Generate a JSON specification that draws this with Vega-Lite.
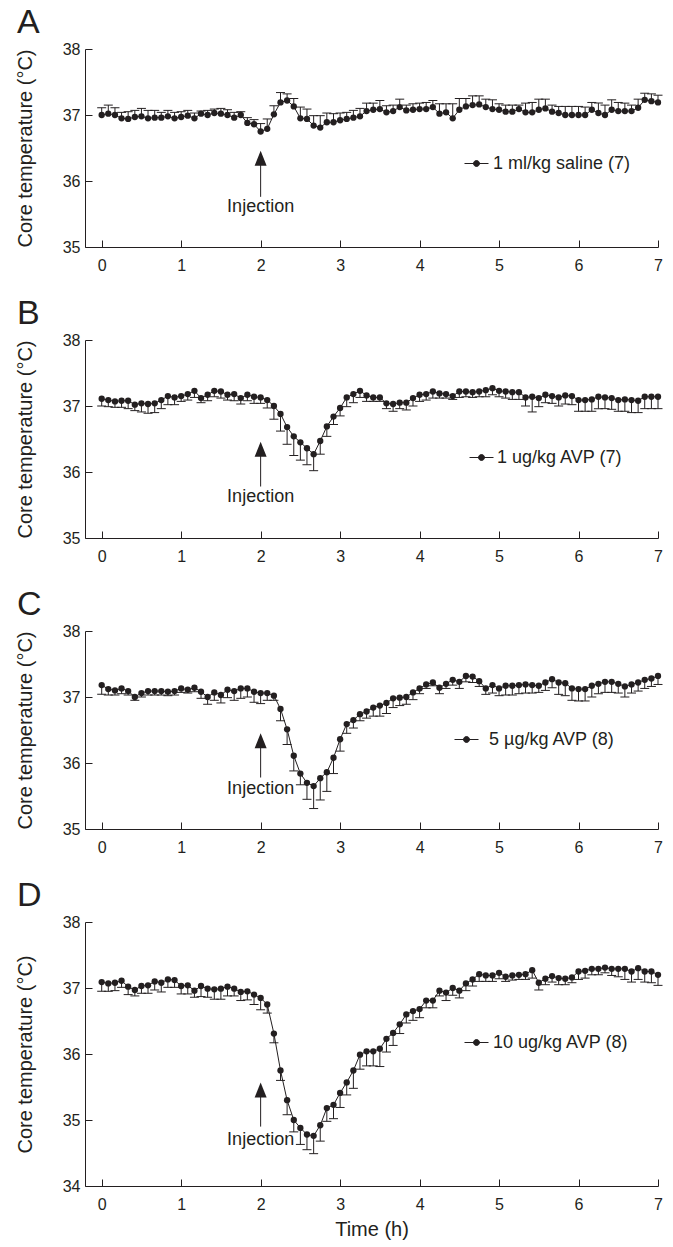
{
  "$schema": "https://vega.github.io/schema/vega-lite/v6.json",
  "background": "white",
  "padding": {"left": 15, "top": 6, "right": 5, "bottom": 5},
  "bounds": "flush",
  "spacing": 93,
  "config": {
    "font": "Liberation Sans",
    "view": {"stroke": null},
    "axis": {
      "grid": false,
      "domainColor": "#231f20",
      "tickColor": "#231f20",
      "labelColor": "#231f20",
      "titleColor": "#231f20",
      "labelFont": "Liberation Sans",
      "titleFont": "Liberation Sans",
      "labelFontSize": 16,
      "titleFontSize": 20,
      "titleFontWeight": "normal",
      "tickSize": -7,
      "domainWidth": 1,
      "tickWidth": 1,
      "labelFlush": false,
      "format": "d"
    },
    "axisY": {"labelPadding": 12, "titlePadding": 27},
    "axisX": {"labelPadding": 17, "titlePadding": 7},
    "title": {"anchor": "start", "frame": "group", "fontSize": 34, "fontWeight": "normal", "color": "#231f20", "font": "Liberation Sans", "dx": -68, "offset": 1},
    "legend": {
      "orient": "none",
      "title": null,
      "padding": 0,
      "symbolType": "M-1,0H1M-0.25,0A0.25,0.25,0,1,1,0.25,0A0.25,0.25,0,1,1,-0.25,0Z",
      "symbolSize": 576,
      "symbolFillColor": "#231f20",
      "symbolStrokeColor": "#231f20",
      "symbolStrokeWidth": 1,
      "symbolOpacity": 1,
      "labelFontSize": 18,
      "labelColor": "#231f20",
      "labelFont": "Liberation Sans"
    }
  },
  "resolve": {"scale": {"x": "independent", "y": "independent", "color": "independent"}, "legend": {"color": "independent"}},
  "datasets": {
    "A": [
      {"t":0,"m":37.00,"e":37.11},{"t":0.083,"m":37.02,"e":37.15},{"t":0.167,"m":37.00,"e":37.11},{"t":0.25,"m":36.95,"e":37.04},{"t":0.333,"m":36.94,"e":37.05},{"t":0.417,"m":36.97,"e":37.07},{"t":0.5,"m":36.98,"e":37.10},{"t":0.583,"m":36.95,"e":37.07},{"t":0.667,"m":36.96,"e":37.07},{"t":0.75,"m":36.96,"e":37.04},{"t":0.833,"m":36.98,"e":37.07},{"t":0.917,"m":36.95,"e":37.04},
      {"t":1,"m":36.97,"e":37.05},{"t":1.083,"m":36.99,"e":37.07},{"t":1.167,"m":36.95,"e":37.03},{"t":1.25,"m":37.02,"e":37.06},{"t":1.333,"m":37.00,"e":37.07},{"t":1.417,"m":37.03,"e":37.09},{"t":1.5,"m":37.02,"e":37.10},{"t":1.583,"m":37.00,"e":37.08},{"t":1.667,"m":36.96,"e":37.04},{"t":1.75,"m":37.00,"e":37.05},{"t":1.833,"m":36.88,"e":36.96},{"t":1.917,"m":36.86,"e":36.93},
      {"t":2,"m":36.75,"e":36.87},{"t":2.083,"m":36.79,"e":36.94},{"t":2.167,"m":37.01,"e":37.14},{"t":2.25,"m":37.19,"e":37.34},{"t":2.333,"m":37.22,"e":37.32},{"t":2.417,"m":37.13,"e":37.25},{"t":2.5,"m":36.95,"e":37.12},{"t":2.583,"m":36.94,"e":37.09},{"t":2.667,"m":36.84,"e":36.99},{"t":2.75,"m":36.81,"e":36.99},{"t":2.833,"m":36.89,"e":37.03},{"t":2.917,"m":36.89,"e":37.02},
      {"t":3,"m":36.92,"e":37.03},{"t":3.083,"m":36.94,"e":37.04},{"t":3.167,"m":36.96,"e":37.07},{"t":3.25,"m":36.98,"e":37.10},{"t":3.333,"m":37.06,"e":37.18},{"t":3.417,"m":37.08,"e":37.18},{"t":3.5,"m":37.09,"e":37.22},{"t":3.583,"m":37.04,"e":37.14},{"t":3.667,"m":37.06,"e":37.15},{"t":3.75,"m":37.12,"e":37.24},{"t":3.833,"m":37.07,"e":37.15},{"t":3.917,"m":37.08,"e":37.17},
      {"t":4,"m":37.09,"e":37.18},{"t":4.083,"m":37.09,"e":37.19},{"t":4.167,"m":37.12,"e":37.22},{"t":4.25,"m":37.02,"e":37.17},{"t":4.333,"m":37.04,"e":37.17},{"t":4.417,"m":36.95,"e":37.17},{"t":4.5,"m":37.08,"e":37.25},{"t":4.583,"m":37.13,"e":37.25},{"t":4.667,"m":37.15,"e":37.29},{"t":4.75,"m":37.16,"e":37.29},{"t":4.833,"m":37.12,"e":37.24},{"t":4.917,"m":37.09,"e":37.23},
      {"t":5,"m":37.08,"e":37.17},{"t":5.083,"m":37.05,"e":37.15},{"t":5.167,"m":37.05,"e":37.15},{"t":5.25,"m":37.09,"e":37.15},{"t":5.333,"m":37.04,"e":37.18},{"t":5.417,"m":37.04,"e":37.19},{"t":5.5,"m":37.08,"e":37.24},{"t":5.583,"m":37.10,"e":37.24},{"t":5.667,"m":37.05,"e":37.15},{"t":5.75,"m":37.03,"e":37.13},{"t":5.833,"m":37.00,"e":37.13},{"t":5.917,"m":37.00,"e":37.13},
      {"t":6,"m":37.00,"e":37.13},{"t":6.083,"m":37.00,"e":37.12},{"t":6.167,"m":37.08,"e":37.19},{"t":6.25,"m":37.03,"e":37.18},{"t":6.333,"m":37.00,"e":37.15},{"t":6.417,"m":37.08,"e":37.23},{"t":6.5,"m":37.06,"e":37.19},{"t":6.583,"m":37.06,"e":37.18},{"t":6.667,"m":37.06,"e":37.15},{"t":6.75,"m":37.11,"e":37.24},{"t":6.833,"m":37.23,"e":37.33},{"t":6.917,"m":37.21,"e":37.32},
      {"t":7,"m":37.19,"e":37.30}
    ],
    "B": [
      {"t":0,"m":37.11,"e":37.00},{"t":0.083,"m":37.09,"e":36.99},{"t":0.167,"m":37.07,"e":36.98},{"t":0.25,"m":37.08,"e":36.98},{"t":0.333,"m":37.08,"e":36.96},{"t":0.417,"m":37.02,"e":36.93},{"t":0.5,"m":37.04,"e":36.91},{"t":0.583,"m":37.03,"e":36.89},{"t":0.667,"m":37.04,"e":36.90},{"t":0.75,"m":37.09,"e":36.96},{"t":0.833,"m":37.15,"e":37.02},{"t":0.917,"m":37.13,"e":37.02},
      {"t":1,"m":37.15,"e":37.07},{"t":1.083,"m":37.18,"e":37.09},{"t":1.167,"m":37.23,"e":37.13},{"t":1.25,"m":37.12,"e":37.05},{"t":1.333,"m":37.17,"e":37.08},{"t":1.417,"m":37.23,"e":37.14},{"t":1.5,"m":37.22,"e":37.12},{"t":1.583,"m":37.17,"e":37.09},{"t":1.667,"m":37.18,"e":37.08},{"t":1.75,"m":37.12,"e":37.03},{"t":1.833,"m":37.17,"e":37.08},{"t":1.917,"m":37.14,"e":37.04},
      {"t":2,"m":37.13,"e":37.04},{"t":2.083,"m":37.09,"e":36.97},{"t":2.167,"m":37.00,"e":36.80},{"t":2.25,"m":36.88,"e":36.62},{"t":2.333,"m":36.68,"e":36.42},{"t":2.417,"m":36.54,"e":36.25},{"t":2.5,"m":36.45,"e":36.18},{"t":2.583,"m":36.36,"e":36.11},{"t":2.667,"m":36.27,"e":36.02},{"t":2.75,"m":36.47,"e":36.27},{"t":2.833,"m":36.69,"e":36.54},{"t":2.917,"m":36.84,"e":36.72},
      {"t":3,"m":36.97,"e":36.85},{"t":3.083,"m":37.13,"e":36.99},{"t":3.167,"m":37.18,"e":37.05},{"t":3.25,"m":37.23,"e":37.13},{"t":3.333,"m":37.16,"e":37.07},{"t":3.417,"m":37.13,"e":37.07},{"t":3.5,"m":37.13,"e":37.07},{"t":3.583,"m":37.04,"e":36.96},{"t":3.667,"m":37.03,"e":36.92},{"t":3.75,"m":37.05,"e":36.96},{"t":3.833,"m":37.05,"e":36.94},{"t":3.917,"m":37.12,"e":37.00},
      {"t":4,"m":37.17,"e":37.07},{"t":4.083,"m":37.18,"e":37.09},{"t":4.167,"m":37.22,"e":37.12},{"t":4.25,"m":37.19,"e":37.12},{"t":4.333,"m":37.18,"e":37.12},{"t":4.417,"m":37.15,"e":37.10},{"t":4.5,"m":37.22,"e":37.13},{"t":4.583,"m":37.22,"e":37.14},{"t":4.667,"m":37.21,"e":37.13},{"t":4.75,"m":37.22,"e":37.14},{"t":4.833,"m":37.24,"e":37.14},{"t":4.917,"m":37.27,"e":37.17},
      {"t":5,"m":37.23,"e":37.14},{"t":5.083,"m":37.22,"e":37.12},{"t":5.167,"m":37.21,"e":37.10},{"t":5.25,"m":37.21,"e":37.10},{"t":5.333,"m":37.13,"e":37.00},{"t":5.417,"m":37.14,"e":36.91},{"t":5.5,"m":37.12,"e":36.99},{"t":5.583,"m":37.17,"e":37.05},{"t":5.667,"m":37.15,"e":37.04},{"t":5.75,"m":37.13,"e":37.00},{"t":5.833,"m":37.16,"e":37.03},{"t":5.917,"m":37.15,"e":37.02},
      {"t":6,"m":37.09,"e":36.92},{"t":6.083,"m":37.09,"e":36.92},{"t":6.167,"m":37.10,"e":36.92},{"t":6.25,"m":37.14,"e":36.96},{"t":6.333,"m":37.13,"e":36.96},{"t":6.417,"m":37.12,"e":36.95},{"t":6.5,"m":37.09,"e":36.92},{"t":6.583,"m":37.10,"e":36.92},{"t":6.667,"m":37.09,"e":36.90},{"t":6.75,"m":37.08,"e":36.90},{"t":6.833,"m":37.14,"e":36.96},{"t":6.917,"m":37.14,"e":36.96},
      {"t":7,"m":37.14,"e":36.96}
    ],
    "C": [
      {"t":0,"m":37.18,"e":37.04},{"t":0.083,"m":37.12,"e":37.03},{"t":0.167,"m":37.10,"e":37.03},{"t":0.25,"m":37.13,"e":37.05},{"t":0.333,"m":37.09,"e":37.03},{"t":0.417,"m":37.00,"e":36.95},{"t":0.5,"m":37.06,"e":37.00},{"t":0.583,"m":37.09,"e":37.03},{"t":0.667,"m":37.09,"e":37.03},{"t":0.75,"m":37.09,"e":37.03},{"t":0.833,"m":37.08,"e":37.02},{"t":0.917,"m":37.09,"e":37.03},
      {"t":1,"m":37.13,"e":37.07},{"t":1.083,"m":37.11,"e":37.06},{"t":1.167,"m":37.14,"e":37.08},{"t":1.25,"m":37.08,"e":36.98},{"t":1.333,"m":37.00,"e":36.89},{"t":1.417,"m":37.07,"e":36.95},{"t":1.5,"m":37.03,"e":36.91},{"t":1.583,"m":37.11,"e":36.99},{"t":1.667,"m":37.09,"e":36.95},{"t":1.75,"m":37.13,"e":36.98},{"t":1.833,"m":37.13,"e":37.00},{"t":1.917,"m":37.08,"e":36.92},
      {"t":2,"m":37.06,"e":36.90},{"t":2.083,"m":37.06,"e":36.95},{"t":2.167,"m":37.02,"e":36.95},{"t":2.25,"m":36.82,"e":36.64},{"t":2.333,"m":36.51,"e":36.28},{"t":2.417,"m":36.11,"e":35.88},{"t":2.5,"m":35.84,"e":35.67},{"t":2.583,"m":35.70,"e":35.45},{"t":2.667,"m":35.65,"e":35.31},{"t":2.75,"m":35.77,"e":35.44},{"t":2.833,"m":35.86,"e":35.57},{"t":2.917,"m":36.08,"e":35.84},
      {"t":3,"m":36.36,"e":36.18},{"t":3.083,"m":36.59,"e":36.45},{"t":3.167,"m":36.65,"e":36.53},{"t":3.25,"m":36.74,"e":36.64},{"t":3.333,"m":36.78,"e":36.68},{"t":3.417,"m":36.84,"e":36.71},{"t":3.5,"m":36.87,"e":36.71},{"t":3.583,"m":36.91,"e":36.75},{"t":3.667,"m":36.98,"e":36.84},{"t":3.75,"m":36.99,"e":36.87},{"t":3.833,"m":37.00,"e":36.89},{"t":3.917,"m":37.07,"e":36.96},
      {"t":4,"m":37.13,"e":37.05},{"t":4.083,"m":37.19,"e":37.13},{"t":4.167,"m":37.22,"e":37.17},{"t":4.25,"m":37.14,"e":37.05},{"t":4.333,"m":37.20,"e":37.13},{"t":4.417,"m":37.26,"e":37.18},{"t":4.5,"m":37.23,"e":37.13},{"t":4.583,"m":37.32,"e":37.23},{"t":4.667,"m":37.31,"e":37.22},{"t":4.75,"m":37.24,"e":37.16},{"t":4.833,"m":37.13,"e":37.04},{"t":4.917,"m":37.18,"e":37.06},
      {"t":5,"m":37.13,"e":37.02},{"t":5.083,"m":37.17,"e":37.03},{"t":5.167,"m":37.17,"e":37.03},{"t":5.25,"m":37.18,"e":37.05},{"t":5.333,"m":37.19,"e":37.06},{"t":5.417,"m":37.18,"e":37.06},{"t":5.5,"m":37.17,"e":37.07},{"t":5.583,"m":37.22,"e":37.10},{"t":5.667,"m":37.27,"e":37.14},{"t":5.75,"m":37.22,"e":37.04},{"t":5.833,"m":37.21,"e":37.02},{"t":5.917,"m":37.13,"e":36.95},
      {"t":6,"m":37.12,"e":36.94},{"t":6.083,"m":37.12,"e":36.94},{"t":6.167,"m":37.17,"e":37.00},{"t":6.25,"m":37.20,"e":37.05},{"t":6.333,"m":37.23,"e":37.07},{"t":6.417,"m":37.23,"e":37.07},{"t":6.5,"m":37.20,"e":37.06},{"t":6.583,"m":37.16,"e":37.00},{"t":6.667,"m":37.19,"e":37.06},{"t":6.75,"m":37.22,"e":37.09},{"t":6.833,"m":37.26,"e":37.13},{"t":6.917,"m":37.28,"e":37.16},
      {"t":7,"m":37.32,"e":37.19}
    ],
    "D": [
      {"t":0,"m":37.09,"e":36.95},{"t":0.083,"m":37.07,"e":36.95},{"t":0.167,"m":37.08,"e":36.96},{"t":0.25,"m":37.11,"e":37.01},{"t":0.333,"m":37.02,"e":36.90},{"t":0.417,"m":36.97,"e":36.88},{"t":0.5,"m":37.03,"e":36.92},{"t":0.583,"m":37.04,"e":36.92},{"t":0.667,"m":37.10,"e":36.97},{"t":0.75,"m":37.08,"e":36.94},{"t":0.833,"m":37.13,"e":37.01},{"t":0.917,"m":37.12,"e":37.01},
      {"t":1,"m":37.03,"e":36.91},{"t":1.083,"m":37.04,"e":36.91},{"t":1.167,"m":36.96,"e":36.86},{"t":1.25,"m":37.03,"e":36.87},{"t":1.333,"m":36.99,"e":36.86},{"t":1.417,"m":36.98,"e":36.83},{"t":1.5,"m":36.99,"e":36.83},{"t":1.583,"m":37.02,"e":36.88},{"t":1.667,"m":36.99,"e":36.88},{"t":1.75,"m":36.94,"e":36.81},{"t":1.833,"m":36.95,"e":36.82},{"t":1.917,"m":36.90,"e":36.75},
      {"t":2,"m":36.85,"e":36.67},{"t":2.083,"m":36.75,"e":36.62},{"t":2.167,"m":36.31,"e":36.17},{"t":2.25,"m":35.75,"e":35.60},{"t":2.333,"m":35.30,"e":35.08},{"t":2.417,"m":35.00,"e":34.82},{"t":2.5,"m":34.88,"e":34.63},{"t":2.583,"m":34.78,"e":34.55},{"t":2.667,"m":34.76,"e":34.49},{"t":2.75,"m":34.92,"e":34.68},{"t":2.833,"m":35.18,"e":34.98},{"t":2.917,"m":35.23,"e":35.02},
      {"t":3,"m":35.41,"e":35.19},{"t":3.083,"m":35.57,"e":35.38},{"t":3.167,"m":35.75,"e":35.48},{"t":3.25,"m":35.99,"e":35.77},{"t":3.333,"m":36.04,"e":35.82},{"t":3.417,"m":36.04,"e":35.82},{"t":3.5,"m":36.08,"e":35.81},{"t":3.583,"m":36.23,"e":36.03},{"t":3.667,"m":36.32,"e":36.13},{"t":3.75,"m":36.45,"e":36.31},{"t":3.833,"m":36.60,"e":36.47},{"t":3.917,"m":36.65,"e":36.51},
      {"t":4,"m":36.68,"e":36.55},{"t":4.083,"m":36.81,"e":36.70},{"t":4.167,"m":36.81,"e":36.70},{"t":4.25,"m":36.96,"e":36.88},{"t":4.333,"m":36.93,"e":36.81},{"t":4.417,"m":37.00,"e":36.89},{"t":4.5,"m":36.96,"e":36.85},{"t":4.583,"m":37.07,"e":36.96},{"t":4.667,"m":37.13,"e":37.03},{"t":4.75,"m":37.21,"e":37.10},{"t":4.833,"m":37.19,"e":37.10},{"t":4.917,"m":37.19,"e":37.10},
      {"t":5,"m":37.23,"e":37.14},{"t":5.083,"m":37.17,"e":37.10},{"t":5.167,"m":37.19,"e":37.12},{"t":5.25,"m":37.20,"e":37.13},{"t":5.333,"m":37.21,"e":37.13},{"t":5.417,"m":37.27,"e":37.15},{"t":5.5,"m":37.08,"e":36.97},{"t":5.583,"m":37.14,"e":37.05},{"t":5.667,"m":37.18,"e":37.09},{"t":5.75,"m":37.15,"e":37.05},{"t":5.833,"m":37.14,"e":37.05},{"t":5.917,"m":37.16,"e":37.08},
      {"t":6,"m":37.25,"e":37.13},{"t":6.083,"m":37.26,"e":37.15},{"t":6.167,"m":37.29,"e":37.20},{"t":6.25,"m":37.29,"e":37.20},{"t":6.333,"m":37.31,"e":37.23},{"t":6.417,"m":37.29,"e":37.19},{"t":6.5,"m":37.29,"e":37.17},{"t":6.583,"m":37.29,"e":37.13},{"t":6.667,"m":37.25,"e":37.09},{"t":6.75,"m":37.30,"e":37.13},{"t":6.833,"m":37.25,"e":37.09},{"t":6.917,"m":37.25,"e":37.08},
      {"t":7,"m":37.20,"e":37.04}
    ],
    "one": [{}]
  },
  "vconcat": [
    {
      "title": "A",
      "width": 573, "height": 198,
      "layer": [
        {"data": {"name": "A"}, "mark": {"type": "rule", "color": "#231f20", "strokeWidth": 1},
         "encoding": {
           "x": {"field": "t", "type": "quantitative", "scale": {"domain": [-0.21, 7], "nice": false, "zero": false}, "axis": {"values": [0,1,2,3,4,5,6,7], "title": null}},
           "y": {"field": "m", "type": "quantitative", "scale": {"domain": [35, 38], "nice": false, "zero": false}, "axis": {"values": [35,36,37,38], "title": "Core temperature (°C)"}},
           "y2": {"field": "e"}}},
        {"data": {"name": "A"}, "mark": {"type": "tick", "orient": "horizontal", "size": 9, "thickness": 1, "color": "#231f20", "opacity": 1},
         "encoding": {"x": {"field": "t", "type": "quantitative"}, "y": {"field": "e", "type": "quantitative"}}},
        {"data": {"name": "A"}, "mark": {"type": "line", "color": "#231f20", "strokeWidth": 1},
         "encoding": {"x": {"field": "t", "type": "quantitative"}, "y": {"field": "m", "type": "quantitative"}}},
        {"data": {"name": "A"}, "mark": {"type": "point", "filled": true, "size": 40, "opacity": 1},
         "encoding": {"x": {"field": "t", "type": "quantitative"}, "y": {"field": "m", "type": "quantitative"},
           "color": {"datum": "1 ml/kg saline (7)", "scale": {"range": ["#231f20"]}, "legend": {"legendX": 379, "legendY": 102, "labelOffset": 4}}}},
        {"data": {"name": "one"}, "mark": {"type": "rule", "color": "#231f20", "strokeWidth": 1},
         "encoding": {"x": {"datum": 2}, "y": {"datum": 35.76}, "y2": {"datum": 36.36}}},
        {"data": {"name": "one"}, "mark": {"type": "point", "shape": "M0,0L-0.5,1.25L0.5,1.25Z", "filled": true, "size": 576, "opacity": 1, "color": "#231f20"},
         "encoding": {"x": {"datum": 2}, "y": {"datum": 36.46}}},
        {"data": {"name": "one"}, "mark": {"type": "text", "text": "Injection", "fontSize": 18, "color": "#231f20", "align": "center", "baseline": "middle"},
         "encoding": {"x": {"datum": 2}, "y": {"datum": 35.61}}}
      ]
    },
    {
      "title": "B",
      "width": 573, "height": 198,
      "layer": [
        {"data": {"name": "B"}, "mark": {"type": "rule", "color": "#231f20", "strokeWidth": 1},
         "encoding": {
           "x": {"field": "t", "type": "quantitative", "scale": {"domain": [-0.21, 7], "nice": false, "zero": false}, "axis": {"values": [0,1,2,3,4,5,6,7], "title": null}},
           "y": {"field": "m", "type": "quantitative", "scale": {"domain": [35, 38], "nice": false, "zero": false}, "axis": {"values": [35,36,37,38], "title": "Core temperature (°C)"}},
           "y2": {"field": "e"}}},
        {"data": {"name": "B"}, "mark": {"type": "tick", "orient": "horizontal", "size": 9, "thickness": 1, "color": "#231f20", "opacity": 1},
         "encoding": {"x": {"field": "t", "type": "quantitative"}, "y": {"field": "e", "type": "quantitative"}}},
        {"data": {"name": "B"}, "mark": {"type": "line", "color": "#231f20", "strokeWidth": 1},
         "encoding": {"x": {"field": "t", "type": "quantitative"}, "y": {"field": "m", "type": "quantitative"}}},
        {"data": {"name": "B"}, "mark": {"type": "point", "filled": true, "size": 40, "opacity": 1},
         "encoding": {"x": {"field": "t", "type": "quantitative"}, "y": {"field": "m", "type": "quantitative"},
           "color": {"datum": "1 ug/kg AVP (7)", "scale": {"range": ["#231f20"]}, "legend": {"legendX": 384, "legendY": 105, "labelOffset": 3}}}},
        {"data": {"name": "one"}, "mark": {"type": "rule", "color": "#231f20", "strokeWidth": 1},
         "encoding": {"x": {"datum": 2}, "y": {"datum": 35.78}, "y2": {"datum": 36.36}}},
        {"data": {"name": "one"}, "mark": {"type": "point", "shape": "M0,0L-0.5,1.25L0.5,1.25Z", "filled": true, "size": 576, "opacity": 1, "color": "#231f20"},
         "encoding": {"x": {"datum": 2}, "y": {"datum": 36.46}}},
        {"data": {"name": "one"}, "mark": {"type": "text", "text": "Injection", "fontSize": 18, "color": "#231f20", "align": "center", "baseline": "middle"},
         "encoding": {"x": {"datum": 2}, "y": {"datum": 35.62}}}
      ]
    },
    {
      "title": "C",
      "width": 573, "height": 198,
      "layer": [
        {"data": {"name": "C"}, "mark": {"type": "rule", "color": "#231f20", "strokeWidth": 1},
         "encoding": {
           "x": {"field": "t", "type": "quantitative", "scale": {"domain": [-0.21, 7], "nice": false, "zero": false}, "axis": {"values": [0,1,2,3,4,5,6,7], "title": null}},
           "y": {"field": "m", "type": "quantitative", "scale": {"domain": [35, 38], "nice": false, "zero": false}, "axis": {"values": [35,36,37,38], "title": "Core temperature (°C)"}},
           "y2": {"field": "e"}}},
        {"data": {"name": "C"}, "mark": {"type": "tick", "orient": "horizontal", "size": 9, "thickness": 1, "color": "#231f20", "opacity": 1},
         "encoding": {"x": {"field": "t", "type": "quantitative"}, "y": {"field": "e", "type": "quantitative"}}},
        {"data": {"name": "C"}, "mark": {"type": "line", "color": "#231f20", "strokeWidth": 1},
         "encoding": {"x": {"field": "t", "type": "quantitative"}, "y": {"field": "m", "type": "quantitative"}}},
        {"data": {"name": "C"}, "mark": {"type": "point", "filled": true, "size": 40, "opacity": 1},
         "encoding": {"x": {"field": "t", "type": "quantitative"}, "y": {"field": "m", "type": "quantitative"},
           "color": {"datum": "5 µg/kg AVP (8)", "scale": {"range": ["#231f20"]}, "legend": {"legendX": 369, "legendY": 96, "labelOffset": 10}}}},
        {"data": {"name": "one"}, "mark": {"type": "rule", "color": "#231f20", "strokeWidth": 1},
         "encoding": {"x": {"datum": 2}, "y": {"datum": 35.78}, "y2": {"datum": 36.35}}},
        {"data": {"name": "one"}, "mark": {"type": "point", "shape": "M0,0L-0.5,1.25L0.5,1.25Z", "filled": true, "size": 576, "opacity": 1, "color": "#231f20"},
         "encoding": {"x": {"datum": 2}, "y": {"datum": 36.45}}},
        {"data": {"name": "one"}, "mark": {"type": "text", "text": "Injection", "fontSize": 18, "color": "#231f20", "align": "center", "baseline": "middle"},
         "encoding": {"x": {"datum": 2}, "y": {"datum": 35.6}}}
      ]
    },
    {
      "title": "D",
      "width": 573, "height": 264,
      "layer": [
        {"data": {"name": "D"}, "mark": {"type": "rule", "color": "#231f20", "strokeWidth": 1},
         "encoding": {
           "x": {"field": "t", "type": "quantitative", "scale": {"domain": [-0.21, 7], "nice": false, "zero": false}, "axis": {"values": [0,1,2,3,4,5,6,7], "title": "Time (h)"}},
           "y": {"field": "m", "type": "quantitative", "scale": {"domain": [34, 38], "nice": false, "zero": false}, "axis": {"values": [34,35,36,37,38], "title": "Core temperature (°C)"}},
           "y2": {"field": "e"}}},
        {"data": {"name": "D"}, "mark": {"type": "tick", "orient": "horizontal", "size": 9, "thickness": 1, "color": "#231f20", "opacity": 1},
         "encoding": {"x": {"field": "t", "type": "quantitative"}, "y": {"field": "e", "type": "quantitative"}}},
        {"data": {"name": "D"}, "mark": {"type": "line", "color": "#231f20", "strokeWidth": 1},
         "encoding": {"x": {"field": "t", "type": "quantitative"}, "y": {"field": "m", "type": "quantitative"}}},
        {"data": {"name": "D"}, "mark": {"type": "point", "filled": true, "size": 40, "opacity": 1},
         "encoding": {"x": {"field": "t", "type": "quantitative"}, "y": {"field": "m", "type": "quantitative"},
           "color": {"datum": "10 ug/kg AVP (8)", "scale": {"range": ["#231f20"]}, "legend": {"legendX": 379, "legendY": 108, "labelOffset": 4}}}},
        {"data": {"name": "one"}, "mark": {"type": "rule", "color": "#231f20", "strokeWidth": 1},
         "encoding": {"x": {"datum": 2}, "y": {"datum": 34.9}, "y2": {"datum": 35.47}}},
        {"data": {"name": "one"}, "mark": {"type": "point", "shape": "M0,0L-0.5,1.25L0.5,1.25Z", "filled": true, "size": 576, "opacity": 1, "color": "#231f20"},
         "encoding": {"x": {"datum": 2}, "y": {"datum": 35.57}}},
        {"data": {"name": "one"}, "mark": {"type": "text", "text": "Injection", "fontSize": 18, "color": "#231f20", "align": "center", "baseline": "middle"},
         "encoding": {"x": {"datum": 2}, "y": {"datum": 34.69}}}
      ]
    }
  ]
}
